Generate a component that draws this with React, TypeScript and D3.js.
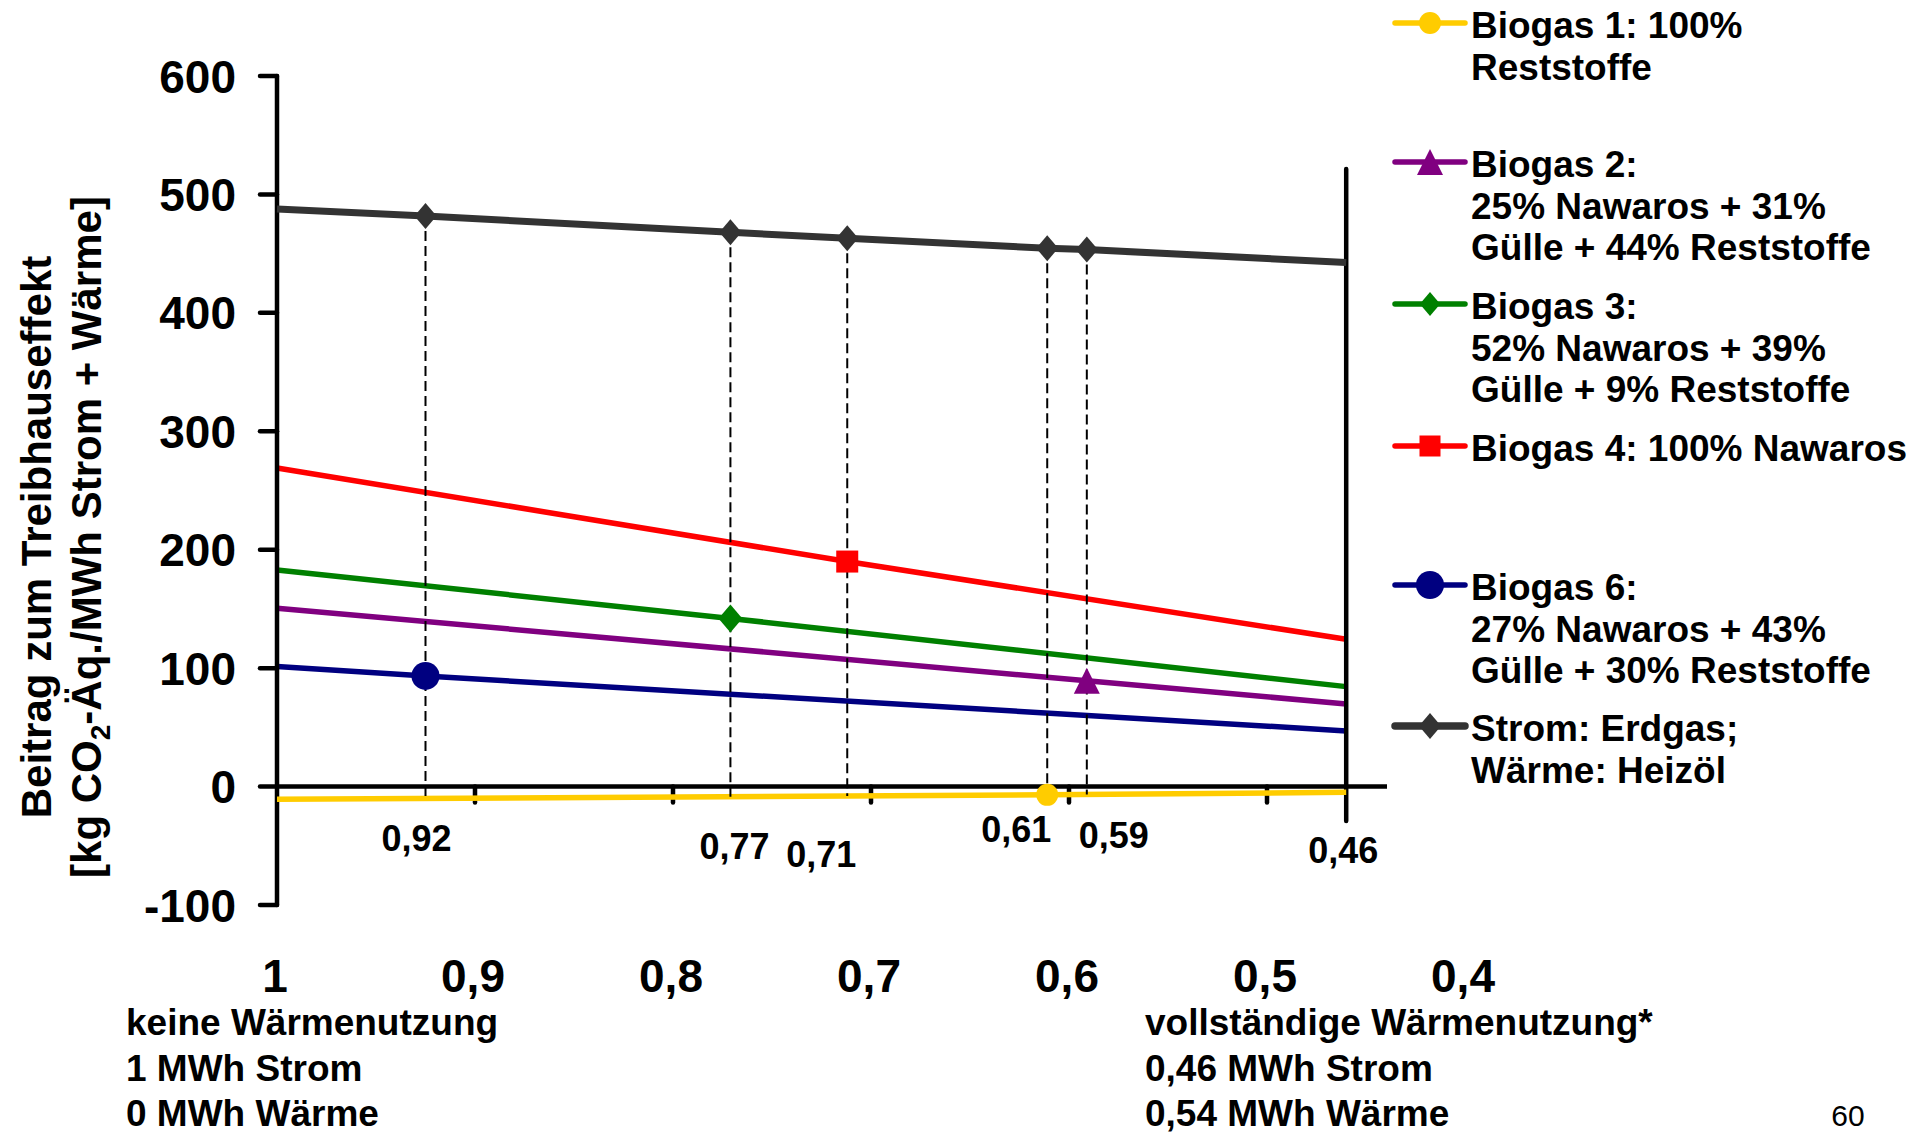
import React from "react";
import * as d3 from "d3";

// ---------- data ----------
const xTickValues = [1, 0.9, 0.8, 0.7, 0.6, 0.5, 0.4];
const xTickLabels = ["1", "0,9", "0,8", "0,7", "0,6", "0,5", "0,4"];
const yTickValues = [600, 500, 400, 300, 200, 100, 0, -100];
const xMinorTicks = [0.9, 0.8, 0.7, 0.6, 0.5];

const xFull = 1; // no heat use
const xEnd = 0.46; // full heat use

// Biogas series: value at x=1, at marker position, at x=0.46
const biogas1X = 0.611;
const biogas1 = [-10.7, -7.0, -4.8];
const biogas2X = 0.591;
const biogas2 = [150.6, 89.3, 69.8];
const biogas3X = 0.771;
const biogas3 = [182.9, 142.0, 84.4];
const biogas4X = 0.712;
const biogas4 = [269.0, 190.0, 124.4];
const biogas6X = 0.925;
const biogas6 = [101.3, 93.4, 47.0];

// Strom: Erdgas; Wärme: Heizöl
const stromX = [1, 0.925, 0.771, 0.712, 0.611, 0.591, 0.46];
const stromY = [487.6, 481.8, 468.0, 463.0, 454.6, 453.4, 442.6];

const markerLabels = ["0,92", "0,77", "0,71", "0,61", "0,59", "0,46"];
const markerLabelX = [0.925, 0.771, 0.712, 0.611, 0.591, 0.46];

const legendLines = [
  ["Biogas 1: 100%", "Reststoffe"],
  ["Biogas 2:", "25% Nawaros + 31%", "Gülle + 44% Reststoffe"],
  ["Biogas 3:", "52% Nawaros + 39%", "Gülle + 9% Reststoffe"],
  ["Biogas 4: 100% Nawaros"],
  ["Biogas 6:", "27% Nawaros + 43%", "Gülle + 30% Reststoffe"],
  ["Strom: Erdgas;", "Wärme: Heizöl"],
];

const leftNotes = ["keine Wärmenutzung", "1 MWh Strom", "0 MWh Wärme"];
const rightNotes = ["vollständige Wärmenutzung*", "0,46 MWh Strom", "0,54 MWh Wärme"];

// ---------- styles / layout ----------
const FONT = "'Liberation Sans', Arial, sans-serif";
const C = {
  yellow: "#FFCC00",
  purple: "#800080",
  green: "#008000",
  red: "#FF0000",
  navy: "#000080",
  strom: "#333333",
};

const W = 1920;
const H = 1135;

const x = d3.scaleLinear().domain([1, 0.4]).range([277, 1465]);
const y = d3.scaleLinear().domain([-100, 600]).range([905, 76]);

const lineGen = d3
  .line<[number, number]>()
  .x((d) => x(d[0]))
  .y((d) => y(d[1]));

type Shape = "circle" | "triangle" | "diamond" | "square";

function Marker({ shape, cx, cy, size, color }: { shape: Shape; cx: number; cy: number; size: number; color: string }) {
  const h = size / 2;
  if (shape === "circle") return <circle cx={cx} cy={cy} r={h} fill={color} />;
  if (shape === "square") return <rect x={cx - h} y={cy - h} width={size} height={size} fill={color} />;
  if (shape === "diamond")
    return <path d={`M${cx},${cy - h}L${cx + h * 0.85},${cy}L${cx},${cy + h}L${cx - h * 0.85},${cy}Z`} fill={color} />;
  return <path d={`M${cx},${cy - h}L${cx + h},${cy + h}L${cx - h},${cy + h}Z`} fill={color} />;
}

const LW = 5.5;

const biogasSeries = [
  { vals: biogas6, mx: biogas6X, color: C.navy, shape: "circle" as Shape, size: 28 },
  { vals: biogas2, mx: biogas2X, color: C.purple, shape: "triangle" as Shape, size: 26 },
  { vals: biogas3, mx: biogas3X, color: C.green, shape: "diamond" as Shape, size: 28 },
  { vals: biogas4, mx: biogas4X, color: C.red, shape: "square" as Shape, size: 22 },
];

const legendMeta = [
  { color: C.yellow, shape: "circle" as Shape, size: 22, width: 5.5, ly: 23 },
  { color: C.purple, shape: "triangle" as Shape, size: 26, width: 5.5, ly: 162 },
  { color: C.green, shape: "diamond" as Shape, size: 24, width: 5.5, ly: 304 },
  { color: C.red, shape: "square" as Shape, size: 21, width: 5.5, ly: 446 },
  { color: C.navy, shape: "circle" as Shape, size: 28, width: 5.5, ly: 585 },
  { color: C.strom, shape: "diamond" as Shape, size: 26, width: 7.5, ly: 726 },
];

const markerLabelBaseline = [851, 859, 867, 842, 848, 863];
const markerLabelShift = [-9, 4, -26, -31, 27, -3];

function seriesPts(vals: number[], mx: number): [number, number][] {
  return [
    [xFull, vals[0]],
    [mx, vals[1]],
    [xEnd, vals[2]],
  ];
}

function interp(vals: number[], mx: number, xv: number) {
  const pts = seriesPts(vals, mx);
  for (let i = 0; i < pts.length - 1; i++) {
    const [x0, y0] = pts[i];
    const [x1, y1] = pts[i + 1];
    if (xv <= x0 && xv >= x1) return y0 + ((y1 - y0) * (x0 - xv)) / (x0 - x1);
  }
  return vals[2];
}

export default function App() {
  const axisY = y(0);
  const stromPts: [number, number][] = stromX.map((v, i) => [v, stromY[i]]);
  const dashedX = [biogas6X, biogas3X, biogas4X, biogas1X, biogas2X];

  return (
    <svg
      width={W}
      height={H}
      style={{ position: "absolute", left: 0, top: 0, background: "#fff" }}
      fontFamily={FONT}
    >
      <rect x={0} y={0} width={W} height={H} fill="#fff" />

      {/* y-axis title */}
      <g fontWeight="bold" fontSize={42} fill="#000" textAnchor="middle">
        <text transform={`translate(51,537) rotate(-90)`}>Beitrag zum Treibhauseffekt</text>
        <text transform={`translate(101,537) rotate(-90)`}>
          [kg CO<tspan fontSize={28} dy={9}>2</tspan>
          <tspan dy={-9}>-Äq./MWh Strom + Wärme]</tspan>
        </text>
      </g>

      {/* biogas lines */}
      {biogasSeries.map((s, i) => (
        <path
          key={"l" + i}
          d={lineGen(seriesPts(s.vals, s.mx)) as string}
          fill="none"
          stroke={s.color}
          strokeWidth={LW}
        />
      ))}

      {/* axes */}
      <g stroke="#000" strokeWidth={4.5} strokeLinecap="round">
        <line x1={x(1)} x2={x(1)} y1={y(600)} y2={y(-100)} />
        {yTickValues.map((v) => (
          <line key={"yt" + v} x1={x(1) - 17} x2={x(1)} y1={y(v)} y2={y(v)} />
        ))}
        <line x1={x(1)} x2={1387} y1={axisY} y2={axisY} strokeLinecap="butt" />
        {xMinorTicks.map((v) => (
          <line key={"xt" + v} x1={x(v)} x2={x(v)} y1={axisY} y2={axisY + 16} />
        ))}
        <line x1={x(xEnd)} x2={x(xEnd)} y1={169} y2={821} />
      </g>

      {/* yellow line on top of axis */}
      <path d={lineGen(seriesPts(biogas1, biogas1X)) as string} fill="none" stroke={C.yellow} strokeWidth={LW} />

      {/* dashed drop lines */}
      <g stroke="#000" strokeWidth={2} strokeDasharray="10,5">
        {dashedX.map((v, i) => {
          const sy = stromY[stromX.indexOf(v)];
          return (
            <line key={"d" + i} x1={x(v)} x2={x(v)} y1={y(sy)} y2={y(interp(biogas1, biogas1X, v))} />
          );
        })}
      </g>

      {/* strom line */}
      <path d={lineGen(stromPts) as string} fill="none" stroke={C.strom} strokeWidth={7} />
      {stromPts.slice(1, -1).map((p, i) => (
        <Marker key={"sm" + i} shape="diamond" cx={x(p[0])} cy={y(p[1])} size={26} color={C.strom} />
      ))}

      {/* biogas markers */}
      {biogasSeries.map((s, i) => (
        <Marker key={"m" + i} shape={s.shape} cx={x(s.mx)} cy={y(s.vals[1])} size={s.size} color={s.color} />
      ))}
      <Marker shape="circle" cx={x(biogas1X)} cy={y(biogas1[1])} size={22} color={C.yellow} />

      {/* y tick labels */}
      <g fontWeight="bold" fontSize={46} fill="#000" textAnchor="end">
        {yTickValues.map((v) => (
          <text key={"yl" + v} x={236} y={y(v) + 16.5}>
            {String(v)}
          </text>
        ))}
      </g>

      {/* x tick labels */}
      <g fontWeight="bold" fontSize={46} fill="#000" textAnchor="middle">
        {xTickValues.map((v, i) => (
          <text key={"xl" + v} x={x(v) - 2} y={992}>
            {xTickLabels[i]}
          </text>
        ))}
      </g>

      {/* marker value labels */}
      <g fontWeight="bold" fontSize={36} fill="#000" textAnchor="middle">
        {markerLabels.map((t, i) => (
          <text key={"ml" + i} x={x(markerLabelX[i]) + markerLabelShift[i]} y={markerLabelBaseline[i]}>
            {t}
          </text>
        ))}
      </g>

      {/* bottom notes */}
      <g fontWeight="bold" fontSize={37} fill="#000">
        {leftNotes.map((t, i) => (
          <text key={"ln" + i} x={126} y={1035 + i * 45.5}>
            {t}
          </text>
        ))}
        {rightNotes.map((t, i) => (
          <text key={"rn" + i} x={1145} y={1035 + i * 45.5}>
            {t}
          </text>
        ))}
      </g>

      {/* legend */}
      {legendMeta.map((m, i) => (
        <g key={"lg" + i}>
          <line x1={1395} x2={1465} y1={m.ly} y2={m.ly} stroke={m.color} strokeWidth={m.width} strokeLinecap="round" />
          <Marker shape={m.shape} cx={1430} cy={m.ly} size={m.size} color={m.color} />
          <g fontWeight="bold" fontSize={37} fill="#000">
            {legendLines[i].map((t, j) => (
              <text key={j} x={1471} y={m.ly + 15 + j * 41.7}>
                {t}
              </text>
            ))}
          </g>
        </g>
      ))}

      {/* page number */}
      <text x={1848} y={1126} fontSize={30} textAnchor="middle" fill="#000">
        60
      </text>
    </svg>
  );
}
